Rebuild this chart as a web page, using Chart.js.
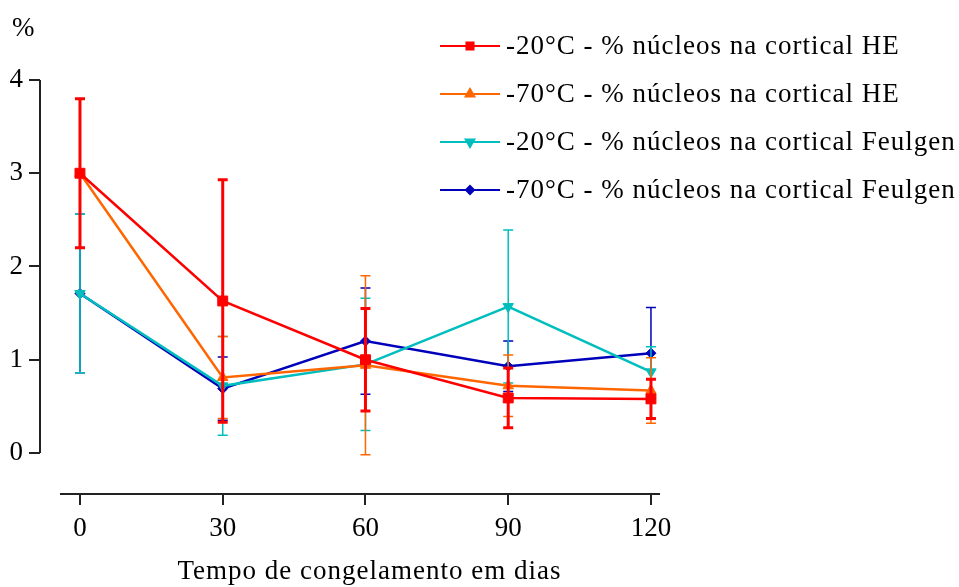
<!DOCTYPE html>
<html lang="pt">
<head>
<meta charset="utf-8">
<title>Núcleos na cortical</title>
<script src="https://cdn.jsdelivr.net/npm/chart.js@4"></script>
<style>
  body { margin: 0; background: #fff; }
  #caixa { position: relative; width: 959px; height: 587px; }
</style>
</head>
<body>
<div id="caixa"><canvas id="grafico"></canvas></div>
<script>
// dias de congelamento
const dias = [0, 30, 60, 90, 120];

// -20°C HE
const he20 = [3.0, 1.63, 1.0, 0.59, 0.58];
const he20Erro = [0.8, 1.30, 0.55, 0.32, 0.21];
// -70°C HE
const he70 = [3.0, 0.81, 0.94, 0.72, 0.67];
const he70Erro = [0.8, 0.44, 0.96, 0.33, 0.35];
// -20°C Feulgen
const fe20 = [1.71, 0.72, 0.95, 1.57, 0.87];
const fe20Erro = [0.85, 0.53, 0.71, 0.82, 0.27];
// -70°C Feulgen
const fe70 = [1.71, 0.69, 1.20, 0.93, 1.07];
const fe70Erro = [0.85, 0.34, 0.57, 0.27, 0.49];

const ticksX = [0, 30, 60, 90, 120];
const ticksY = [0, 1, 2, 3, 4];

const fonte = "'Liberation Serif', 'Times New Roman', serif";

function serie(nome, valores, erros, cor, estilo, raio, rot, grossura) {
    return {
        label: nome,
        data: valores.map((v, i) => ({ x: dias[i], y: v })),
        erros: erros,
        larguraErro: grossura,
        borderColor: cor,
        backgroundColor: cor,
        borderWidth: 2.5,
        pointStyle: estilo,
        pointRadius: raio,
        pointRotation: rot,
        pointBorderWidth: 1,
        tension: 0,
        clip: false
    };
}

// o primeiro dataset fica por cima
const datasets = [
    serie('-20°C - % núcleos na cortical HE', he20, he20Erro, '#ff0000', 'rect', 7, 0, 3),
    serie('-70°C - % núcleos na cortical HE', he70, he70Erro, '#ff6600', 'triangle', 6, 0, 1.5),
    serie('-20°C - % núcleos na cortical Feulgen', fe20, fe20Erro, '#00bebe', 'triangle', 6, 180, 1.5),
    serie('-70°C - % núcleos na cortical Feulgen', fe70, fe70Erro, '#0000bb', 'rectRot', 5, 0, 1.5)
];

// barras de erro, desenhadas antes da linha de cada serie
const barrasErro = {
    id: 'barrasErro',
    beforeDatasetDraw(chart, args) {
        const ds = chart.data.datasets[args.index];
        const escY = chart.scales.y;
        const ctx = chart.ctx;
        ctx.save();
        ctx.strokeStyle = ds.borderColor;
        ctx.lineWidth = ds.larguraErro;
        args.meta.data.forEach((p, i) => {
            const v = ds.data[i].y;
            const e = ds.erros[i];
            const yA = escY.getPixelForValue(v + e);
            const yB = escY.getPixelForValue(v - e);
            ctx.beginPath();
            ctx.moveTo(p.x, yA); ctx.lineTo(p.x, yB);
            ctx.moveTo(p.x - 5, yA); ctx.lineTo(p.x + 5, yA);
            ctx.moveTo(p.x - 5, yB); ctx.lineTo(p.x + 5, yB);
            ctx.stroke();
        });
        ctx.restore();
    }
};

// eixos separados, titulos e legenda
const eixos = {
    id: 'eixos',
    afterDraw(chart) {
        const ctx = chart.ctx;
        const sx = chart.scales.x;
        const sy = chart.scales.y;
        const area = chart.chartArea;
        ctx.save();
        ctx.strokeStyle = '#222';
        ctx.lineWidth = 2;
        ctx.beginPath();
        ctx.moveTo(area.left, sy.getPixelForValue(4));
        ctx.lineTo(area.left, sy.getPixelForValue(0));
        ctx.moveTo(sx.getPixelForValue(-4.2), area.bottom);
        ctx.lineTo(area.right, area.bottom);
        ctx.stroke();

        ctx.fillStyle = '#000';
        ctx.font = '27px ' + fonte;
        ctx.textBaseline = 'middle';
        ctx.textAlign = 'left';
        ctx.fillText('%', 12, 29);
        ctx.letterSpacing = '1px';
        ctx.textAlign = 'center';
        ctx.fillText('Tempo de congelamento em dias', sx.getPixelForValue(60) + 4, 572);

        // legenda
        ctx.textAlign = 'left';
        chart.data.datasets.forEach((ds, i) => {
            const y = 46 + i * 48;
            ctx.strokeStyle = ds.borderColor;
            ctx.fillStyle = ds.borderColor;
            ctx.lineWidth = 2;
            ctx.beginPath();
            ctx.moveTo(440, y); ctx.lineTo(500, y);
            ctx.stroke();
            Chart.helpers.drawPoint(ctx, {
                pointStyle: ds.pointStyle,
                radius: ds.pointStyle === 'rectRot' ? 4 : 5,
                rotation: ds.pointRotation,
                borderWidth: 1
            }, 470, y);
            ctx.fillStyle = '#000';
            ctx.fillText(ds.label, 506, y + 1);
        });
        ctx.restore();
    }
};

new Chart(document.getElementById('grafico'), {
    type: 'line',
    data: { datasets },
    options: {
        responsive: true,
        maintainAspectRatio: false,
        animation: false,
        layout: { padding: { top: 80, right: 299, bottom: 0, left: 0 } },
        plugins: {
            legend: { display: false },
            tooltip: { enabled: false }
        },
        scales: {
            x: {
                type: 'linear',
                min: -8.4,
                max: 121.9,
                afterBuildTicks(s) { s.ticks = ticksX.map(v => ({ value: v })); },
                afterFit(s) { s.height = 93; },
                border: { display: false },
                grid: { drawOnChartArea: false, tickLength: 11, color: '#222', lineWidth: 2 },
                ticks: { color: '#000', font: { family: fonte, size: 27 }, padding: 8, maxRotation: 0 }
            },
            y: {
                min: -0.44,
                max: 4,
                afterBuildTicks(s) { s.ticks = ticksY.map(v => ({ value: v })); },
                afterFit(s) { s.width = 40; },
                border: { display: false },
                grid: { drawOnChartArea: false, tickLength: 11, color: '#222', lineWidth: 2 },
                ticks: { color: '#000', font: { family: fonte, size: 27 }, padding: 6 }
            }
        }
    },
    plugins: [barrasErro, eixos]
});
</script>
</body>
</html>
